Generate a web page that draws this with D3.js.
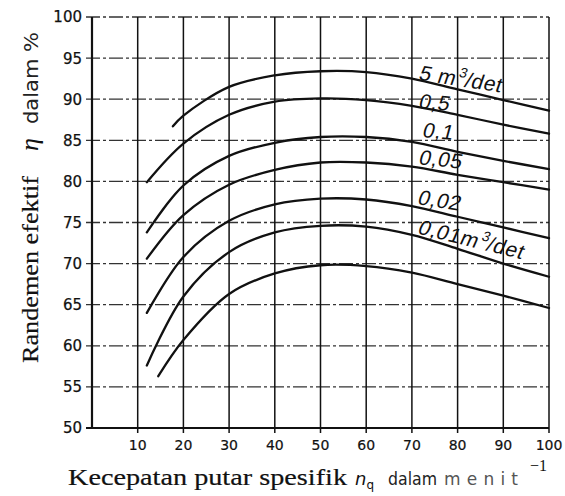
<!DOCTYPE html>
<html><head><meta charset="utf-8">
<script src="https://cdn.jsdelivr.net/npm/d3@7"></script>
<style>body{margin:0;background:#fff}svg{display:block}</style>
</head><body>
<svg id="c" width="565" height="496"></svg>
<script>
// ---- data (nq in 1/min, efficiency in %) ----
const xTicks = [10,20,30,40,50,60,70,80,90,100];
const yTicks = [50,55,60,65,70,75,80,85,90,95,100];
const q5   = [[17.7,86.7],[20,88.0],[30,91.5],[40,92.9],[50,93.4],[60,93.3],[70,92.5],[80,91.2],[90,89.9],[100,88.6]];
const q05  = [[12,79.9],[20,84.6],[30,88.1],[40,89.7],[50,90.1],[60,89.9],[70,89.2],[80,88.1],[90,86.9],[100,85.8]];
const q01  = [[12,73.8],[20,79.5],[30,83.1],[40,84.7],[50,85.4],[60,85.4],[70,84.8],[80,83.6],[90,82.5],[100,81.5]];
const q005 = [[12,70.6],[20,75.9],[30,79.6],[40,81.4],[50,82.3],[60,82.3],[70,81.8],[80,80.8],[90,79.9],[100,79.0]];
const q002 = [[12,64.0],[20,70.8],[30,75.2],[40,77.2],[50,77.9],[60,77.8],[70,77.0],[80,75.7],[90,74.4],[100,73.1]];
const q001 = [[12,57.6],[20,66.0],[30,71.4],[40,73.8],[50,74.6],[60,74.5],[70,73.5],[80,71.8],[90,70.0],[100,68.4]];
const qLow = [[14.5,56.3],[20,60.7],[30,66.3],[40,68.8],[50,69.8],[60,69.7],[70,68.9],[80,67.5],[90,66.1],[100,64.6]];
const seriesList = [q5,q05,q01,q005,q002,q001,qLow];
// curve labels: text, superscript part, anchor nq, anchor eta, angle
const labelText = ["5 m","0,5","0,1","0,05","0,02","0,01m"];
const labelSup  = ["3/det","","","","","3/det"];
const labelNq   = [71.3,71.3,72.1,71.3,71.0,71.0];
const labelEta  = [92.4,88.9,85.4,82.1,77.25,73.7];
const labelAng  = [9,5,5,6,9,14];

const svg = d3.select("#c");
const x = d3.scaleLinear().domain([0,100]).range([92,549]);
const y = d3.scaleLinear().domain([50,100]).range([428,17]);
const ink = "#111";
const sans = "'DejaVu Sans', Verdana, sans-serif";
const serif = "'Liberation Serif', 'Times New Roman', serif";

// horizontal dashed grid
svg.append("g").selectAll("line").data(yTicks.filter(d=>d>50)).join("line")
  .attr("x1",x(0)-6).attr("x2",x(100)).attr("y1",d=>y(d)).attr("y2",d=>y(d))
  .attr("stroke","#333").attr("stroke-width",1.3).attr("stroke-dasharray","14,3,3,3");
// vertical solid grid
svg.append("g").selectAll("line").data(xTicks).join("line")
  .attr("x1",d=>x(d)).attr("x2",d=>x(d)).attr("y1",y(100)).attr("y2",y(50)+5)
  .attr("stroke",ink).attr("stroke-width",1.5);
// axes
svg.append("line").attr("x1",x(0)).attr("x2",x(0)).attr("y1",y(100)).attr("y2",y(50))
  .attr("stroke",ink).attr("stroke-width",2.2);
svg.append("line").attr("x1",x(0)-6).attr("x2",x(100)).attr("y1",y(50)).attr("y2",y(50))
  .attr("stroke",ink).attr("stroke-width",2.2);

// tick labels
svg.append("g").selectAll("text").data(yTicks).join("text")
  .attr("x",82).attr("y",d=>y(d)).attr("dy","0.36em").attr("text-anchor","end")
  .attr("font-family",sans).attr("font-size",15).attr("fill","#111")
  .attr("stroke","#111").attr("stroke-width",0.25).text(d=>d);
svg.append("g").selectAll("text").data(xTicks).join("text")
  .attr("x",d=>x(d)).attr("y",450).attr("text-anchor","middle")
  .attr("font-family",sans).attr("font-size",14).attr("fill","#111")
  .attr("stroke","#111").attr("stroke-width",0.2).text(d=>d);

// curves
const line = d3.line().x(d=>x(d[0])).y(d=>y(d[1])).curve(d3.curveCatmullRom.alpha(0.5));
svg.append("g").selectAll("path").data(seriesList).join("path")
  .attr("d",line).attr("fill","none").attr("stroke",ink).attr("stroke-width",2.3)
  .attr("stroke-linecap","round");

// curve labels
labelText.forEach((t,i)=>{
  const g = svg.append("text")
    .attr("transform",`translate(${x(labelNq[i])},${y(labelEta[i])}) rotate(${labelAng[i]}) skewX(-10)`)
    .attr("font-family","'Liberation Sans', Arial, sans-serif").attr("font-size",21)
    .attr("letter-spacing",0.6).attr("fill",ink);
  g.append("tspan").text(t);
  if(labelSup[i]){
    g.append("tspan").attr("font-size",14).attr("dx",1).attr("dy",-9).text(labelSup[i][0]);
    g.append("tspan").attr("font-size",21).attr("dy",9).text(labelSup[i].slice(1));
  }
});

// x title
svg.append("text").attr("x",68).attr("y",485).attr("font-family",serif).attr("font-size",24)
  .attr("fill",ink).attr("stroke",ink).attr("stroke-width",0.2)
  .attr("textLength",279).attr("lengthAdjust","spacingAndGlyphs")
  .text("Kecepatan putar spesifik");
const nq = svg.append("text").attr("x",355).attr("y",485).attr("font-family",sans).attr("font-size",18).attr("fill",ink);
nq.append("tspan").attr("font-style","italic").text("n");
nq.append("tspan").attr("font-size",12).attr("dy",4).text("q");
svg.append("text").attr("x",388).attr("y",485).attr("font-family",sans).attr("font-size",17)
  .attr("fill","#222").attr("textLength",49).attr("lengthAdjust","spacingAndGlyphs").text("dalam");
svg.append("text").attr("x",444).attr("y",485).attr("font-family",sans).attr("font-size",17)
  .attr("fill","#555").attr("textLength",74).attr("lengthAdjust","spacing").text("menit");
svg.append("text").attr("x",530).attr("y",471).attr("font-family",serif).attr("font-size",16)
  .attr("fill",ink).text("−1");

// y title (rotated)
const yt = svg.append("g").attr("transform","translate(38,0) rotate(-90)");
yt.append("text").attr("x",-363).attr("y",0).attr("font-family",serif).attr("font-size",24)
  .attr("fill",ink).attr("stroke",ink).attr("stroke-width",0.2)
  .attr("textLength",187).attr("lengthAdjust","spacingAndGlyphs").text("Randemen efektif");
yt.append("text").attr("x",-151).attr("y",0).attr("font-family",serif).attr("font-style","italic").attr("font-size",26)
  .attr("fill",ink).text("η");
yt.append("text").attr("x",-124).attr("y",0).attr("font-family",sans).attr("font-size",19)
  .attr("fill","#222").attr("textLength",92).attr("lengthAdjust","spacingAndGlyphs").text("dalam %");
</script>
</body></html>
